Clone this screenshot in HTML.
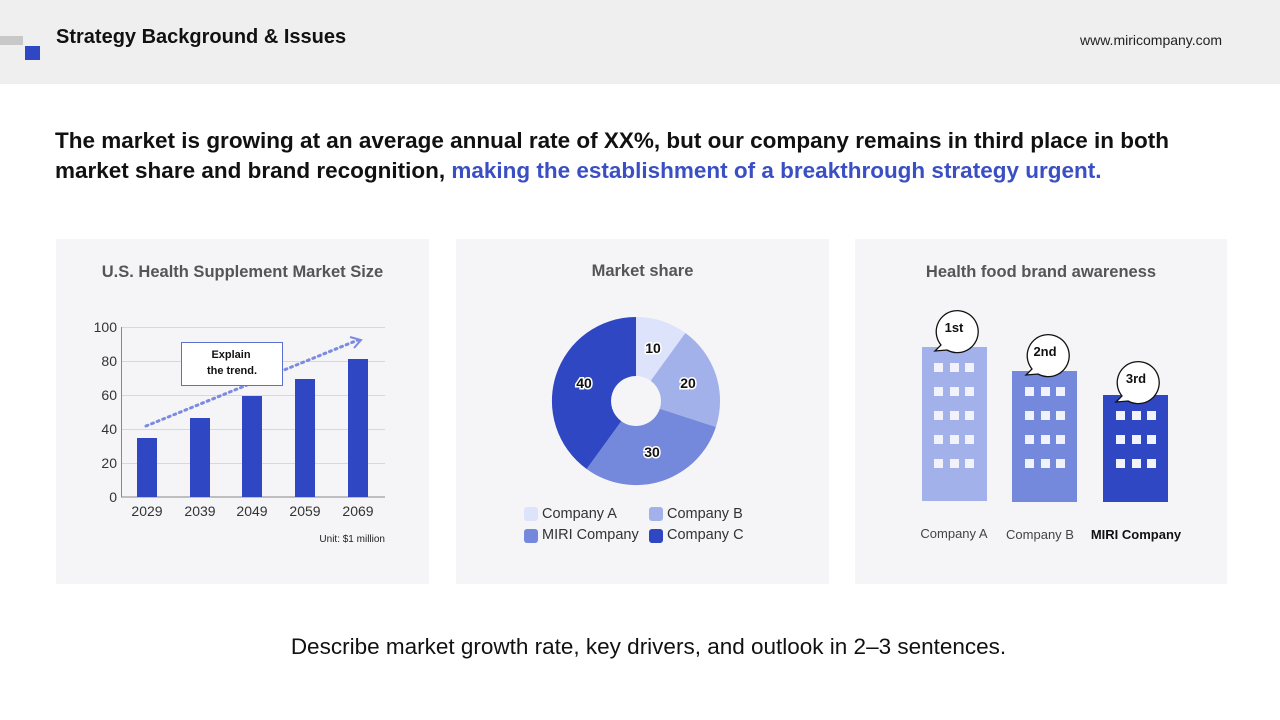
<!DOCTYPE html>
<html><head><meta charset="utf-8"><style>
body{margin:0;width:1280px;height:720px;background:#fff;font-family:"Liberation Sans","DejaVu Sans",sans-serif;position:relative;overflow:hidden}
.hdr{position:absolute;left:0;top:0;width:1280px;height:84px;background:#efefef}
.panel{position:absolute;top:239px;width:373px;height:345px;background:#f5f5f7}
.t{position:absolute;white-space:nowrap}
</style></head><body>
<div class="hdr"></div>
<div style="position:absolute;left:0;top:36px;width:23px;height:9px;background:#c8c8c8"></div>
<div style="position:absolute;left:25px;top:46px;width:15px;height:14px;background:#2f47c3"></div>
<div class="t" style="left:56px;top:26px;font-size:20px;font-weight:bold;color:#111">Strategy Background &amp; Issues</div>
<div class="t" style="left:1080px;top:32px;font-size:14px;color:#222">www.miricompany.com</div>
<div class="t" style="left:55px;top:126px;font-size:22.5px;font-weight:bold;color:#111;line-height:30px">The market is growing at an average annual rate of XX%, but our company remains in third place in both<br>market share and brand recognition, <span style="color:#3a4fc4">making the establishment of a breakthrough strategy urgent.</span></div>
<div class="panel" style="left:56px"></div>
<div class="panel" style="left:456px"></div>
<div class="panel" style="left:855px;width:372px"></div>
<div class="t" style="left:56px;width:373px;text-align:center;top:263px;font-size:16.5px;font-weight:bold;color:#555">U.S. Health Supplement Market Size</div>
<div class="t" style="left:456px;width:373px;text-align:center;top:262px;font-size:16.5px;font-weight:bold;color:#555">Market share</div>
<div class="t" style="left:855px;width:372px;text-align:center;top:263px;font-size:16.5px;font-weight:bold;color:#555">Health food brand awareness</div>
<svg width="1280" height="720" style="position:absolute;left:0;top:0" font-family="Liberation Sans, sans-serif">
<g stroke="#d8d8d8" stroke-width="1">
<line x1="121" x2="385" y1="327.5" y2="327.5"/><line x1="121" x2="385" y1="361.5" y2="361.5"/><line x1="121" x2="385" y1="395.5" y2="395.5"/><line x1="121" x2="385" y1="429.5" y2="429.5"/><line x1="121" x2="385" y1="463.5" y2="463.5"/>
</g>
<line x1="121.5" x2="121.5" y1="327" y2="497" stroke="#888"/><line x1="121" x2="385" y1="497" y2="497" stroke="#888"/>
<g font-size="14" fill="#333" text-anchor="end"><text x="117" y="332">100</text><text x="117" y="366">80</text><text x="117" y="400">60</text><text x="117" y="434">40</text><text x="117" y="468">20</text><text x="117" y="502">0</text></g>
<g fill="#2f47c3"><rect x="137" y="438" width="20" height="59"/><rect x="190" y="418" width="20" height="79"/><rect x="242" y="396" width="20" height="101"/><rect x="295" y="379" width="20" height="118"/><rect x="348" y="359" width="20" height="138"/></g>
<g font-size="14" fill="#333" text-anchor="middle"><text x="147" y="516">2029</text><text x="200" y="516">2039</text><text x="252" y="516">2049</text><text x="305" y="516">2059</text><text x="358" y="516">2069</text></g>
<line x1="146" y1="426" x2="358" y2="340" stroke="#7b8be0" stroke-width="3" stroke-dasharray="2 4" stroke-linecap="round"/>
<polyline points="350,337 361,340 354,348" fill="none" stroke="#7b8be0" stroke-width="2"/>
<rect x="181.5" y="342.5" width="101" height="43" fill="#fff" stroke="#5b6fd0"/>
<text x="231" y="358" font-size="11" font-weight="bold" text-anchor="middle" fill="#111">Explain</text>
<text x="232" y="374" font-size="11" font-weight="bold" text-anchor="middle" fill="#111">the trend.</text>
<text x="385" y="542" font-size="10" text-anchor="end" fill="#222">Unit: $1 million</text>
<path d="M636,317 A84,84 0 0 1 685.4,333 L650.7,380.8 A25,25 0 0 0 636,376Z" fill="#dde3fb"/>
<path d="M685.4,333 A84,84 0 0 1 715.9,427 L659.8,408.7 A25,25 0 0 0 650.7,380.8Z" fill="#a3b1ea"/>
<path d="M715.9,427 A84,84 0 0 1 586.6,469 L621.3,421.2 A25,25 0 0 0 659.8,408.7Z" fill="#7488dc"/>
<path d="M586.6,469 A84,84 0 0 1 636,317 L636,376 A25,25 0 0 0 621.3,421.2Z" fill="#2f47c3"/>
<g font-size="14" font-weight="bold" text-anchor="middle" fill="#111" stroke="#fff" stroke-width="3" paint-order="stroke"><text x="653" y="353">10</text><text x="688" y="388">20</text><text x="652" y="457">30</text><text x="584" y="388">40</text></g>
<rect x="524" y="507" width="14" height="14" rx="3" fill="#dde3fb"/><rect x="649" y="507" width="14" height="14" rx="3" fill="#a3b1ea"/>
<rect x="524" y="529" width="14" height="14" rx="3" fill="#7488dc"/><rect x="649" y="529" width="14" height="14" rx="3" fill="#2f47c3"/>
<g font-size="14.5" fill="#333"><text x="542" y="518">Company A</text><text x="667" y="518">Company B</text><text x="542" y="539">MIRI Company</text><text x="667" y="539">Company C</text></g>
<rect x="922" y="347" width="65" height="154" fill="#a3b1ea"/>
<rect x="1012" y="371" width="65" height="131" fill="#7488dc"/>
<rect x="1103" y="395" width="65" height="107" fill="#2f47c3"/>
<g fill="#f2f3fa">
<rect x="934" y="363" width="9" height="9"/><rect x="950" y="363" width="9" height="9"/><rect x="965" y="363" width="9" height="9"/>
<rect x="934" y="387" width="9" height="9"/><rect x="950" y="387" width="9" height="9"/><rect x="965" y="387" width="9" height="9"/>
<rect x="934" y="411" width="9" height="9"/><rect x="950" y="411" width="9" height="9"/><rect x="965" y="411" width="9" height="9"/>
<rect x="934" y="435" width="9" height="9"/><rect x="950" y="435" width="9" height="9"/><rect x="965" y="435" width="9" height="9"/>
<rect x="934" y="459" width="9" height="9"/><rect x="950" y="459" width="9" height="9"/><rect x="965" y="459" width="9" height="9"/>
<rect x="1025" y="387" width="9" height="9"/><rect x="1041" y="387" width="9" height="9"/><rect x="1056" y="387" width="9" height="9"/>
<rect x="1025" y="411" width="9" height="9"/><rect x="1041" y="411" width="9" height="9"/><rect x="1056" y="411" width="9" height="9"/>
<rect x="1025" y="435" width="9" height="9"/><rect x="1041" y="435" width="9" height="9"/><rect x="1056" y="435" width="9" height="9"/>
<rect x="1025" y="459" width="9" height="9"/><rect x="1041" y="459" width="9" height="9"/><rect x="1056" y="459" width="9" height="9"/>
<rect x="1116" y="411" width="9" height="9"/><rect x="1132" y="411" width="9" height="9"/><rect x="1147" y="411" width="9" height="9"/>
<rect x="1116" y="435" width="9" height="9"/><rect x="1132" y="435" width="9" height="9"/><rect x="1147" y="435" width="9" height="9"/>
<rect x="1116" y="459" width="9" height="9"/><rect x="1132" y="459" width="9" height="9"/><rect x="1147" y="459" width="9" height="9"/>
</g>
<g fill="#fff" stroke="#111" stroke-width="1.3">
<path d="M941,345 A21,21 0 1 1 947,350 L935,351 Z"/>
<path d="M1032,369 A21,21 0 1 1 1038,374 L1026,375 Z"/>
<path d="M1122,396 A21,21 0 1 1 1128,401 L1116,402 Z"/>
</g>
<g font-size="13" font-weight="bold" text-anchor="middle" fill="#111"><text x="954" y="332">1st</text><text x="1045" y="356">2nd</text><text x="1136" y="383">3rd</text></g>
<g font-size="13" fill="#444" text-anchor="middle"><text x="954" y="538">Company A</text><text x="1040" y="539">Company B</text><text x="1136" y="539" font-weight="bold" fill="#111">MIRI Company</text></g>
</svg>
<div class="t" style="left:0;width:1297px;text-align:center;top:634px;font-size:22.5px;color:#111">Describe market growth rate, key drivers, and outlook in 2–3 sentences.</div>
</body></html>
